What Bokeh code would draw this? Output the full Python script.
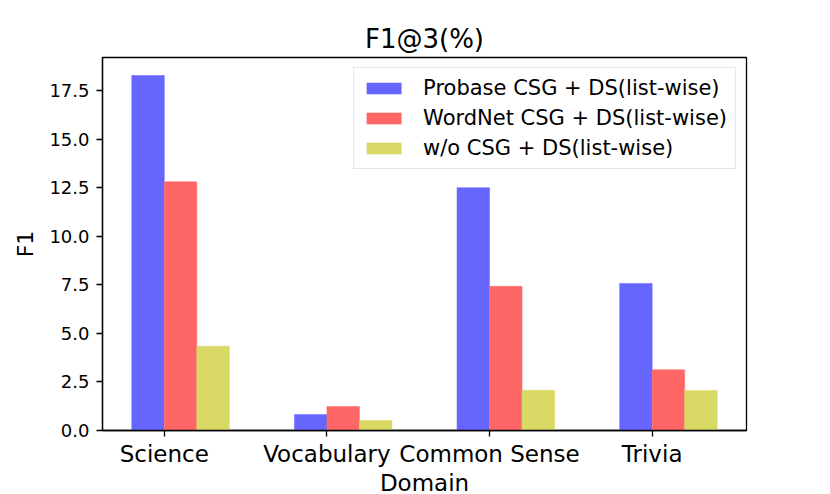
from bokeh.plotting import figure
from bokeh.models import ColumnDataSource, FixedTicker, PrintfTickFormatter, Range1d
from bokeh.embed import file_html
from bokeh.resources import INLINE

domains = ["Science", "Vocabulary", "Common Sense", "Trivia"]
probase = [18.27, 0.82, 12.5, 7.57]
wordnet = [12.8, 1.23, 7.42, 3.13]
wo_csg = [4.34, 0.52, 2.07, 2.06]
series_labels = ["Probase CSG + DS(list-wise)", "WordNet CSG + DS(list-wise)", "w/o CSG + DS(list-wise)"]
y_ticks = [0.0, 2.5, 5.0, 7.5, 10.0, 12.5, 15.0, 17.5]

FONT = "DejaVu Sans"
bar_w = 0.2
offsets = [-0.1, 0.1, 0.3]
colors = ["#6666ff", "#ff6666", "#d9d966"]

p = figure(output_backend="svg", toolbar_location=None,
           x_range=Range1d(-0.38, 3.58), y_range=Range1d(0, 19.2),
           frame_width=644, frame_height=373,
           min_border_left=102, min_border_right=70, min_border_top=57, min_border_bottom=58,
           title="F1@3(%)")

idx = list(range(len(domains)))
for vals, off, col, lab in zip([probase, wordnet, wo_csg], offsets, colors, series_labels):
    src = ColumnDataSource(dict(x=[i + off for i in idx], top=vals))
    p.vbar(x="x", top="top", width=bar_w, bottom=0, source=src,
           fill_color=col, line_color=col, line_width=0.5, legend_label=lab)

p.title.align = "center"
p.title.text_font = FONT
p.title.text_font_size = "26px"
p.title.text_font_style = "normal"
p.title.text_color = "black"
p.title.standoff = 8

p.xgrid.visible = False
p.ygrid.visible = False
p.outline_line_color = "black"
p.outline_line_width = 1.3
p.outline_line_alpha = 1

p.xaxis.ticker = FixedTicker(ticks=idx)
p.xaxis.major_label_overrides = {i: d for i, d in zip(idx, domains)}
p.xaxis.axis_label = "Domain"
p.yaxis.ticker = FixedTicker(ticks=y_ticks)
p.yaxis.formatter = PrintfTickFormatter(format="%.1f")
p.yaxis.axis_label = "F1"

for ax in [p.xaxis[0], p.yaxis[0]]:
    ax.axis_line_color = "black"
    ax.axis_line_width = 1.3
    ax.major_tick_line_color = "black"
    ax.major_tick_line_width = 1.3
    ax.major_tick_out = 6
    ax.major_tick_in = 0
    ax.minor_tick_line_color = None
    ax.major_label_text_font = FONT
    ax.major_label_text_color = "black"
    ax.axis_label_text_font = FONT
    ax.axis_label_text_font_style = "normal"
    ax.axis_label_text_color = "black"

p.xaxis.major_label_text_font_size = "23px"
p.xaxis.axis_label_text_font_size = "23px"
p.xaxis.major_label_standoff = 4
p.xaxis.axis_label_standoff = 0
p.yaxis.major_label_text_font_size = "18px"
p.yaxis.axis_label_text_font_size = "22px"
p.yaxis.major_label_standoff = 7
p.yaxis.axis_label_standoff = 8

lg = p.legend[0]
lg.location = "top_right"
lg.margin = 10
lg.padding = 8
lg.spacing = 6
lg.glyph_width = 43
lg.glyph_height = 14
lg.label_height = 20
lg.label_standoff = 18
lg.label_text_font = FONT
lg.label_text_font_size = "21px"
lg.label_text_color = "black"
lg.border_line_color = "#cccccc"
lg.border_line_width = 1
lg.background_fill_alpha = 0.8

open("out.html", "w").write(file_html(p, INLINE))
